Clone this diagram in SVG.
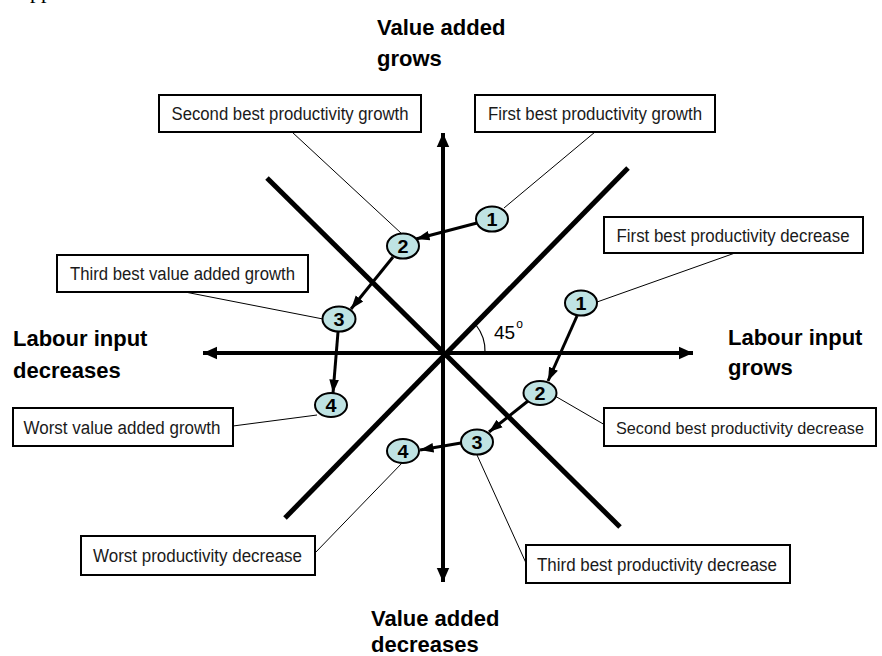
<svg xmlns="http://www.w3.org/2000/svg" width="882" height="656" viewBox="0 0 882 656">
<defs>
<style>
.box{fill:#fff;stroke:#000;stroke-width:2}
.lbl{font-family:"Liberation Sans",Arial,sans-serif;font-size:18px;fill:#1a1a1a;text-anchor:middle}
.ax{font-family:"Liberation Sans",Arial,sans-serif;font-size:22px;font-weight:bold;fill:#000}
.node{fill:#bfe3e3;stroke:#000;stroke-width:2}
.num{font-family:"Liberation Sans",Arial,sans-serif;font-size:19px;font-weight:bold;fill:#000;text-anchor:middle}
.lead{stroke:#000;stroke-width:1;fill:none}
.axis{stroke:#000;stroke-width:4;fill:none}
.diag{stroke:#000;stroke-width:5;fill:none;stroke-linecap:butt}
.step{stroke:#000;stroke-width:3;fill:none}
</style>
<marker id="axh" markerWidth="4" markerHeight="4" refX="3.6" refY="2" orient="auto" markerUnits="strokeWidth">
<path d="M0,0.4 L3.6,2 L0,3.6 Z" fill="#000"/>
</marker>
<marker id="sth" markerWidth="5" markerHeight="5" refX="4.5" refY="2.5" orient="auto" markerUnits="strokeWidth">
<path d="M0,0.9 L4.5,2.5 L0,4.1 Z" fill="#000"/>
</marker>
</defs>
<rect width="882" height="656" fill="#fff"/>
<text x="14" y="-2" font-family="Liberation Serif,serif" font-size="22" fill="#000">Appendix</text>

<g id="axes">
<line class="diag" x1="267" y1="178" x2="620" y2="527"/>
<line class="diag" x1="628" y1="168" x2="285" y2="518"/>
<line class="axis" x1="443" y1="353" x2="443" y2="133" marker-end="url(#axh)"/>
<line class="axis" x1="443" y1="353" x2="443" y2="582" marker-end="url(#axh)"/>
<line class="axis" x1="443" y1="353" x2="693" y2="353" marker-end="url(#axh)"/>
<line class="axis" x1="443" y1="353" x2="203" y2="353" marker-end="url(#axh)"/>
<path d="M476,325 A42,42 0 0 1 485,352" stroke="#000" stroke-width="1.2" fill="none"/>
<text x="494" y="339" font-family="Liberation Sans,Arial,sans-serif" font-size="19" fill="#000">45<tspan font-size="12" dy="-11" dx="1">o</tspan></text>
</g>

<g id="axis-labels">
<text class="ax" x="377" y="35">Value added</text>
<text class="ax" x="377" y="66">grows</text>
<text class="ax" x="728" y="345">Labour input</text>
<text class="ax" x="728" y="375">grows</text>
<text class="ax" x="13" y="346">Labour input</text>
<text class="ax" x="13" y="378">decreases</text>
<text class="ax" x="371" y="626">Value added</text>
<text class="ax" x="371" y="652">decreases</text>
</g>

<g id="connectors">
<line class="lead" x1="292" y1="132" x2="402" y2="234"/>
<line class="lead" x1="595" y1="132" x2="504" y2="208"/>
<line class="lead" x1="735" y1="253" x2="597" y2="302"/>
<line class="lead" x1="185" y1="292" x2="323" y2="319"/>
<line class="lead" x1="233" y1="426" x2="317" y2="415"/>
<line class="lead" x1="555" y1="396" x2="605" y2="425"/>
<line class="lead" x1="477" y1="455" x2="526" y2="563"/>
<line class="lead" x1="403" y1="462" x2="315" y2="553"/>
<line class="step" x1="477" y1="223" x2="416" y2="239" marker-end="url(#sth)"/>
<line class="step" x1="393" y1="257" x2="351" y2="309" marker-end="url(#sth)"/>
<line class="step" x1="338" y1="332" x2="333" y2="393" marker-end="url(#sth)"/>
<line class="step" x1="577" y1="316" x2="548" y2="381" marker-end="url(#sth)"/>
<line class="step" x1="528" y1="401" x2="489" y2="432" marker-end="url(#sth)"/>
<line class="step" x1="461" y1="443" x2="420" y2="450" marker-end="url(#sth)"/>
</g>

<g id="node-L1"><ellipse class="node" cx="492" cy="219" rx="16" ry="12.5"/><text class="num" x="492" y="226" textLength="11" lengthAdjust="spacingAndGlyphs">1</text></g>
<g id="node-L2"><ellipse class="node" cx="403" cy="246" rx="16" ry="12.5"/><text class="num" x="403" y="253" textLength="11" lengthAdjust="spacingAndGlyphs">2</text></g>
<g id="node-L3"><ellipse class="node" cx="339" cy="319" rx="16.5" ry="12.5"/><text class="num" x="339" y="326" textLength="11" lengthAdjust="spacingAndGlyphs">3</text></g>
<g id="node-L4"><ellipse class="node" cx="331" cy="405" rx="16" ry="12"/><text class="num" x="331" y="412" textLength="11" lengthAdjust="spacingAndGlyphs">4</text></g>
<g id="node-R1"><ellipse class="node" cx="581" cy="303" rx="16" ry="12.5"/><text class="num" x="581" y="310" textLength="11" lengthAdjust="spacingAndGlyphs">1</text></g>
<g id="node-R2"><ellipse class="node" cx="540" cy="393" rx="16.5" ry="12"/><text class="num" x="540" y="400" textLength="11" lengthAdjust="spacingAndGlyphs">2</text></g>
<g id="node-R3"><ellipse class="node" cx="477" cy="442" rx="16" ry="12.5"/><text class="num" x="477" y="449" textLength="11" lengthAdjust="spacingAndGlyphs">3</text></g>
<g id="node-R4"><ellipse class="node" cx="403" cy="451" rx="16" ry="12"/><text class="num" x="403" y="458" textLength="11" lengthAdjust="spacingAndGlyphs">4</text></g>

<g id="box-sb-growth"><rect class="box" x="159" y="95" width="262" height="37"/><text class="lbl" x="290" y="120" textLength="237" lengthAdjust="spacingAndGlyphs">Second best productivity growth</text></g>
<g id="box-fb-growth"><rect class="box" x="475" y="95" width="240" height="37"/><text class="lbl" x="595" y="120" textLength="214" lengthAdjust="spacingAndGlyphs">First best productivity growth</text></g>
<g id="box-fb-decrease"><rect class="box" x="604" y="217" width="259" height="36"/><text class="lbl" x="733" y="241.5" textLength="233" lengthAdjust="spacingAndGlyphs">First best productivity decrease</text></g>
<g id="box-tb-va"><rect class="box" x="57" y="255" width="251" height="37"/><text class="lbl" x="182.5" y="280" textLength="225" lengthAdjust="spacingAndGlyphs">Third best value added growth</text></g>
<g id="box-worst-va"><rect class="box" x="13" y="408" width="220" height="38"/><text class="lbl" x="122" y="433.5" textLength="197" lengthAdjust="spacingAndGlyphs">Worst value added growth</text></g>
<g id="box-sb-decrease"><rect class="box" x="604" y="408" width="272" height="38"/><text class="lbl" x="740" y="433.5" font-size="17" style="font-size:17px" textLength="248" lengthAdjust="spacingAndGlyphs">Second best productivity decrease</text></g>
<g id="box-worst-decrease"><rect class="box" x="81" y="536" width="234" height="39"/><text class="lbl" x="197.5" y="562" textLength="209" lengthAdjust="spacingAndGlyphs">Worst productivity decrease</text></g>
<g id="box-tb-decrease"><rect class="box" x="526" y="545" width="264" height="38"/><text class="lbl" x="657" y="570.5" textLength="240" lengthAdjust="spacingAndGlyphs">Third best productivity decrease</text></g>
</svg>
